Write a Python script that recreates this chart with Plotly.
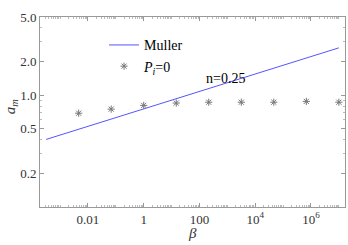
import plotly.graph_objects as go

# Muller line (power law, straight on log-log)
muller_beta = [10**-3.5, 0.01, 1, 100, 1e4, 1e6, 1e7]
muller_a = [0.402, 0.526, 0.753, 1.08, 1.55, 2.21, 2.65]

# P_i = 0 points
p_beta = [0.00464, 0.0681, 1, 14.7, 215, 3162, 46416, 681292, 1e7]
p_a = [0.69, 0.75, 0.81, 0.85, 0.865, 0.865, 0.865, 0.88, 0.865]

x_tickvals = [0.01, 1, 100, 1e4, 1e6]
x_ticktext = ["0.01", "1", "100", "10<sup>4</sup>", "10<sup>6</sup>"]
y_tickvals = [0.2, 0.5, 1, 2, 5]
y_ticktext = ["0.2", "0.5", "1.0", "2.0", "5.0"]

serif = "Liberation Serif, serif"

fig = go.Figure()
fig.add_trace(go.Scatter(x=muller_beta, y=muller_a, mode="lines",
                         line=dict(color="#5555ff", width=1), name="Muller"))
fig.add_trace(go.Scatter(x=p_beta, y=p_a, mode="markers",
                         marker=dict(symbol="asterisk-open", size=6, color="#777777",
                                     line=dict(color="#777777", width=1)),
                         name="<i>P</i><sub><i>i</i></sub>=0"))

# annotation position in log units for log axes
fig.add_annotation(x=2.94, y=0.153, xref="x", yref="y", text="n=0.25", showarrow=False,
                   font=dict(family=serif, size=14, color="#000000"))
# axis titles
fig.add_annotation(x=0.5, y=-0.137, xref="paper", yref="paper", text="<i>β</i>", showarrow=False,
                   xanchor="center", yanchor="middle",
                   font=dict(family=serif, size=15, color="#333333"))
fig.add_annotation(x=-0.095, y=0.53, xref="paper", yref="paper", text="<i>a</i><sub><i>m</i></sub>",
                   showarrow=False, textangle=-90, xanchor="center", yanchor="middle",
                   font=dict(family=serif, size=15, color="#333333"))

axis_common = dict(showline=True, linecolor="#999999", linewidth=1, mirror="allticks",
                   ticks="inside", ticklen=4, tickcolor="#999999", showgrid=False, zeroline=False,
                   automargin=False,
                   tickfont=dict(family=serif, size=13, color="#333333"))

fig.update_xaxes(type="log", range=[-3.72, 7.22], tickvals=x_tickvals, ticktext=x_ticktext,
                 minor=dict(ticks="inside", ticklen=2, tickcolor="#bbbbbb", dtick="D1"),
                 **axis_common)
fig.update_yaxes(type="log", range=[-1, 0.699], tickvals=y_tickvals, ticktext=y_ticktext,
                 minor=dict(ticks="inside", ticklen=2, tickcolor="#bbbbbb", dtick="D1"),
                 **axis_common)

fig.update_layout(width=348, height=245, margin=dict(l=40, r=3, t=17, b=38, autoexpand=False),
                  paper_bgcolor="white", plot_bgcolor="white",
                  showlegend=True,
                  legend=dict(x=0.21, y=0.935, xanchor="left", yanchor="top",
                              bgcolor="rgba(0,0,0,0)", itemwidth=30, tracegroupgap=0,
                              font=dict(family=serif, size=14, color="#000000")))

fig.write_html("out.html", config={"displayModeBar": False},
               post_script="document.body.style.margin='0';document.body.style.overflow='hidden';")
